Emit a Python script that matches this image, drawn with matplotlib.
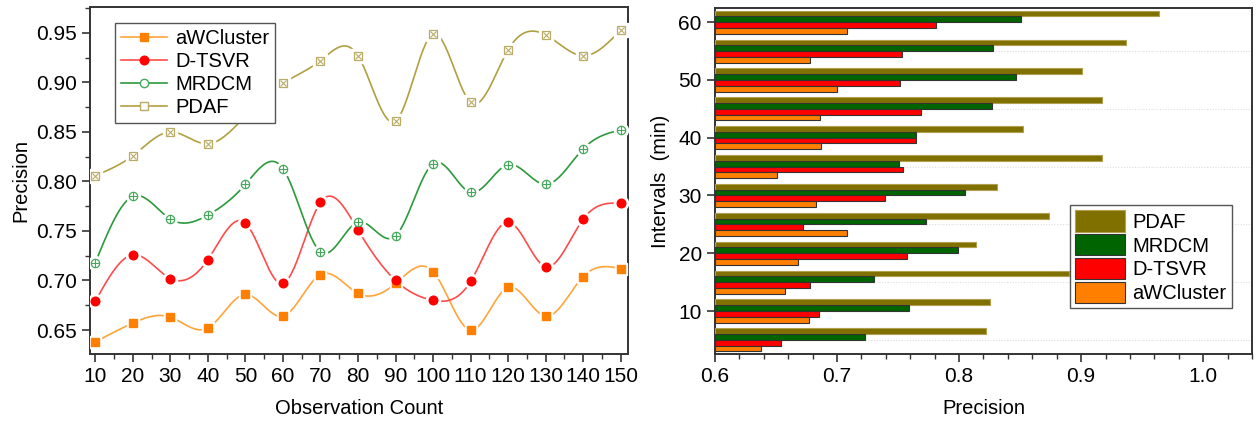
import numpy as np
import matplotlib
matplotlib.use("Agg")
import matplotlib.pyplot as plt
from matplotlib.ticker import MultipleLocator

plt.rcParams['font.family'] = ['Liberation Sans', 'DejaVu Sans']

# Left chart data
obs_count = [10, 20, 30, 40, 50, 60, 70, 80, 90, 100, 110, 120, 130, 140, 150]
awcluster = [0.638, 0.657, 0.663, 0.652, 0.686, 0.664, 0.706, 0.687, 0.697, 0.709, 0.650, 0.693, 0.664, 0.704, 0.712]
dtsvr = [0.679, 0.726, 0.702, 0.721, 0.758, 0.697, 0.779, 0.751, 0.700, 0.680, 0.699, 0.759, 0.714, 0.762, 0.778]
mrdcm = [0.718, 0.785, 0.762, 0.766, 0.797, 0.813, 0.729, 0.759, 0.745, 0.818, 0.789, 0.817, 0.797, 0.833, 0.852]
pdaf = [0.806, 0.826, 0.850, 0.838, 0.866, 0.899, 0.922, 0.927, 0.861, 0.949, 0.880, 0.933, 0.948, 0.927, 0.953]

# Right chart data (intervals in min)
intervals = [5, 10, 15, 20, 25, 30, 35, 40, 45, 50, 55, 60]
bar_pdaf = [0.822, 0.825, 0.890, 0.814, 0.874, 0.831, 0.917, 0.852, 0.917, 0.901, 0.937, 0.964]
bar_mrdcm = [0.723, 0.759, 0.730, 0.799, 0.773, 0.805, 0.751, 0.765, 0.827, 0.847, 0.828, 0.851]
bar_dtsvr = [0.654, 0.685, 0.678, 0.757, 0.672, 0.739, 0.754, 0.765, 0.769, 0.752, 0.753, 0.781]
bar_awc = [0.638, 0.677, 0.657, 0.668, 0.708, 0.683, 0.651, 0.687, 0.686, 0.700, 0.678, 0.708]


def spline(x, y, n=400):
    # natural cubic spline, drawn through the points like Origin does
    x = np.asarray(x, float)
    y = np.asarray(y, float)
    h = np.diff(x)
    m = len(x)
    A = np.zeros((m, m))
    b = np.zeros(m)
    A[0, 0] = A[-1, -1] = 1
    for i in range(1, m - 1):
        A[i, i - 1] = h[i - 1]
        A[i, i] = 2 * (h[i - 1] + h[i])
        A[i, i + 1] = h[i]
        b[i] = 3 * ((y[i + 1] - y[i]) / h[i] - (y[i] - y[i - 1]) / h[i - 1])
    c = np.linalg.solve(A, b)
    xs = np.linspace(x[0], x[-1], n)
    idx = np.clip(np.searchsorted(x, xs) - 1, 0, m - 2)
    dx = xs - x[idx]
    bb = (y[idx + 1] - y[idx]) / h[idx] - h[idx] * (2 * c[idx] + c[idx + 1]) / 3
    d = (c[idx + 1] - c[idx]) / (3 * h[idx])
    ys = y[idx] + bb * dx + c[idx] * dx ** 2 + d * dx ** 3
    return xs, ys


fig = plt.figure(figsize=(12.57, 4.23), dpi=100)
ax1 = fig.add_axes([0.0716, 0.1625, 0.4282, 0.8198])
ax2 = fig.add_axes([0.5688, 0.1630, 0.4272, 0.8180])

# ---- left: line chart ----
series = [
    ("aWCluster", awcluster, '#FFA43A', '#FF8000', 's', None, 5.2),
    ("D-TSVR", dtsvr, '#FF4B4B', '#FF0000', 'o', None, 6.2),
    ("MRDCM", mrdcm, '#2C9A3C', '#45A85A', 'o', '+', 6.0),
    ("PDAF", pdaf, '#B0A040', '#B8AC66', 's', 'x', 5.6),
]
handles = []
for name, vals, lc, mc, mk, inner, ms in series:
    xs, ys = spline(obs_count, vals)
    ax1.plot(xs, ys, color=lc, lw=1.2, zorder=2)
    # white halo gives the gap between line and marker
    ax1.plot(obs_count, vals, ls='none', marker=mk, ms=ms + 4, mfc='white', mec='white', zorder=3)
    if inner is None:
        ax1.plot(obs_count, vals, ls='none', marker=mk, ms=ms, mfc=mc, mec=mc, zorder=4)
        h, = ax1.plot([], [], color=lc, lw=1.2, marker=mk, ms=ms, mfc=mc, mec=mc)
    else:
        ax1.plot(obs_count, vals, ls='none', marker=mk, ms=ms, mfc='white', mec=mc, mew=0.9, zorder=4)
        ax1.plot(obs_count, vals, ls='none', marker=inner, ms=ms * 0.8 if inner == 'x' else ms,
                 mec=mc, mew=0.8, zorder=5)
        h, = ax1.plot([], [], color=lc, lw=1.2, marker=mk, ms=ms, mfc='white', mec=mc)
    handles.append(h)

ax1.set_xlim(8.6, 152)
ax1.set_ylim(0.6255, 0.9757)
ax1.xaxis.set_major_locator(MultipleLocator(10))
ax1.xaxis.set_minor_locator(MultipleLocator(5))
ax1.yaxis.set_major_locator(MultipleLocator(0.05))
ax1.yaxis.set_minor_locator(MultipleLocator(0.025))
ax1.yaxis.set_major_formatter(matplotlib.ticker.FormatStrFormatter('%.2f'))
ax1.tick_params(which='major', length=6, width=1.2, labelsize=15, color='#333333')
ax1.tick_params(which='minor', length=3.5, width=1.0, color='#333333')
ax1.set_xlabel("Observation Count", fontsize=14.5, labelpad=9)
ax1.set_ylabel("Precision", fontsize=14.5, labelpad=4)
for s in ax1.spines.values():
    s.set_linewidth(1.4)
    s.set_color('#333333')
leg1 = ax1.legend(handles, [s[0] for s in series], loc='upper left',
                  bbox_to_anchor=(0.046, 0.955), borderaxespad=0, fontsize=14.5,
                  frameon=True, framealpha=1, fancybox=False, edgecolor='#555555',
                  handlelength=2.3, borderpad=0.3, labelspacing=0.2, handletextpad=0.4)
leg1.get_frame().set_linewidth(1.0)
leg1.set_zorder(10)

# ---- right: horizontal bar chart ----
y = np.array(intervals, float)
bh = 1.0
bars = [
    ("PDAF", bar_pdaf, '#807000', '#B0A050', 1.5),
    ("MRDCM", bar_mrdcm, '#006400', '#333333', 0.5),
    ("D-TSVR", bar_dtsvr, '#FF0000', '#333333', -0.5),
    ("aWCluster", bar_awc, '#FF8000', '#333333', -1.5),
]
for name, vals, fc, ec, off in bars:
    ax2.barh(y + off, np.array(vals) - 0.6, left=0.6, height=bh, color=fc,
             edgecolor=ec, linewidth=0.8, label=name, zorder=3)

for g in [5, 15, 25, 35, 45, 55]:
    ax2.axhline(g, color='#DDDDDD', lw=0.8, ls=(0, (1, 1.5)), zorder=1)

ax2.set_xlim(0.6, 1.04)
ax2.set_ylim(2.55, 62.45)
ax2.xaxis.set_major_locator(MultipleLocator(0.1))
ax2.xaxis.set_minor_locator(MultipleLocator(0.02))
ax2.yaxis.set_major_locator(MultipleLocator(10))
ax2.yaxis.set_minor_locator(MultipleLocator(5))
ax2.xaxis.set_major_formatter(matplotlib.ticker.FormatStrFormatter('%.1f'))
ax2.tick_params(which='major', length=6, width=1.2, labelsize=15, color='#333333')
ax2.tick_params(which='minor', length=3.5, width=1.0, color='#333333')
ax2.tick_params(axis='y', which='minor', length=0)
ax2.set_xlabel("Precision", fontsize=14.5, labelpad=9)
ax2.set_ylabel("Intervals  (min)", fontsize=14.5, labelpad=6)
for s in ax2.spines.values():
    s.set_linewidth(1.4)
    s.set_color('#333333')
leg2 = ax2.legend(loc='upper left', bbox_to_anchor=(0.661, 0.43), borderaxespad=0,
                  fontsize=14.5, frameon=True, framealpha=1, fancybox=False,
                  edgecolor='#555555', handlelength=2.5, handleheight=1.25,
                  borderpad=0.25, labelspacing=0.12, handletextpad=0.35)
leg2.get_frame().set_linewidth(1.0)
leg2.set_zorder(10)

fig.savefig("out.png", dpi=100)
